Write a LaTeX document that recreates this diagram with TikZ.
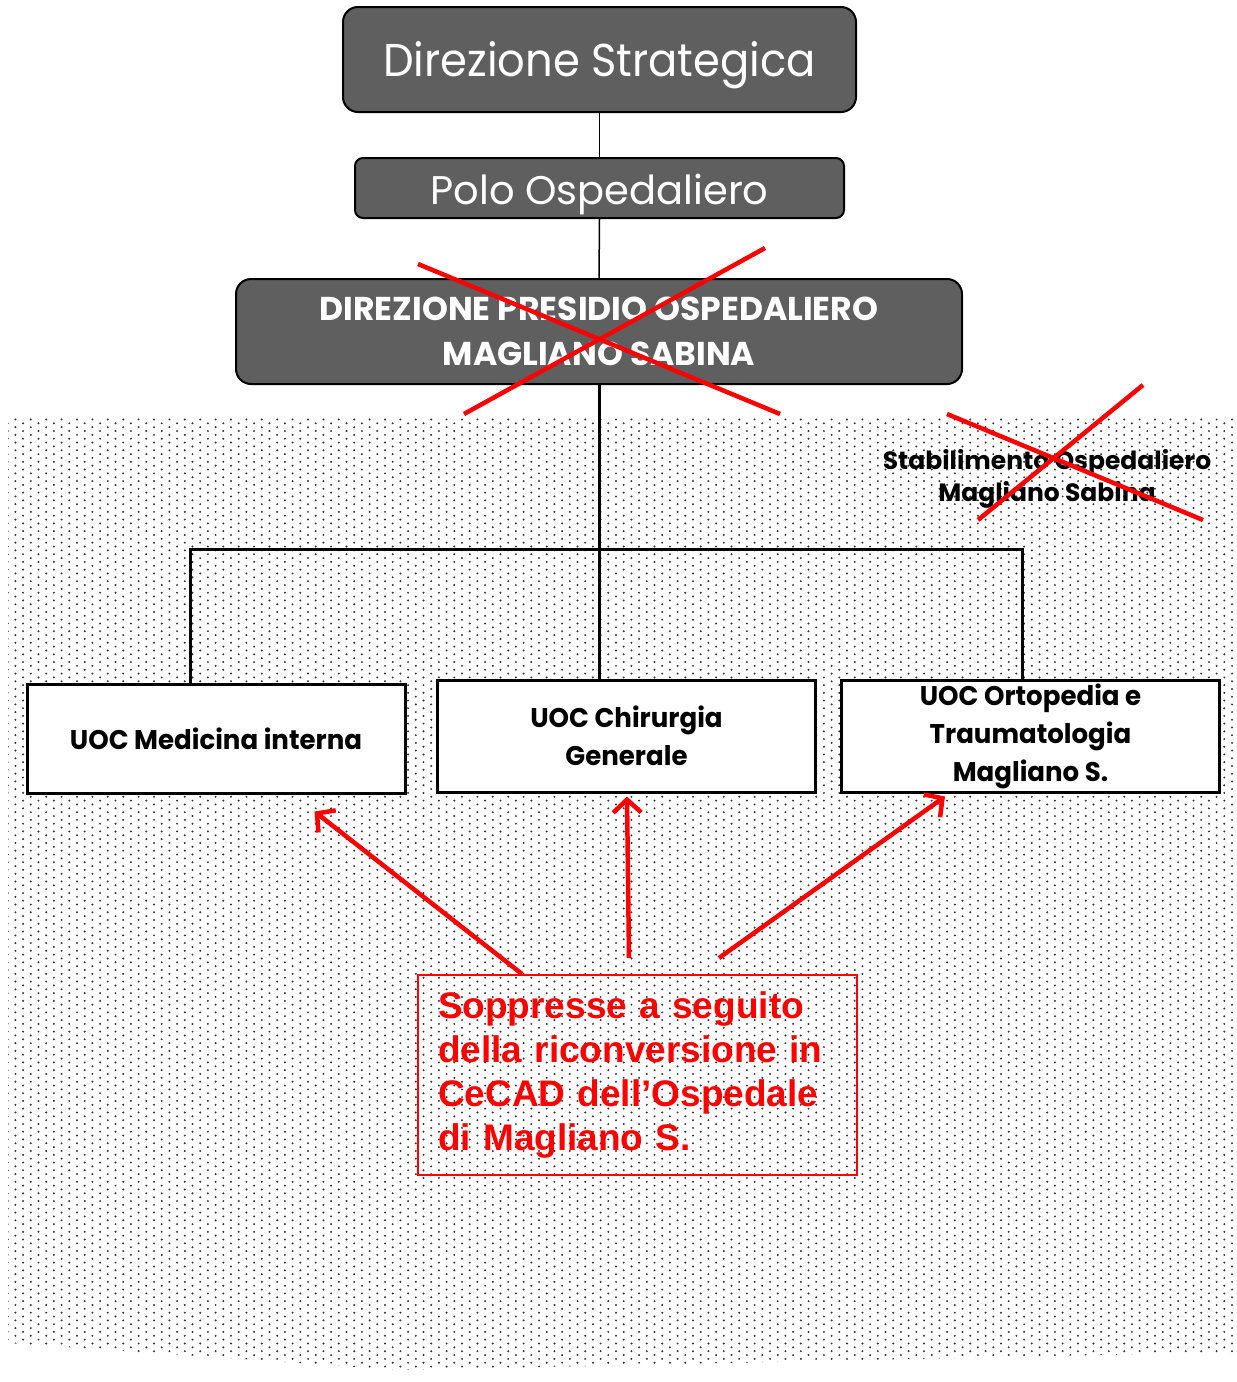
\documentclass[tikz,border=0pt]{standalone}
\usepackage{fontspec}
\usetikzlibrary{arrows.meta,patterns.meta,calc}
\newfontfamily\gothic{Poppins}
\newfontfamily\redfont{Liberation Sans}
\newcommand{\hsq}[2]{\scalebox{#1}[1]{#2}}
\definecolor{boxgray}{HTML}{5F5F5F}
\definecolor{xred}{HTML}{FF0000}
\tikzdeclarepattern{
  name=bgdots,
  type=uncolored,
  bounding box={(-1.2pt,-1.2pt) and (14.2pt,6.5pt)},
  tile size={(15.4pt,7.7pt)},
  code={
    \pgfpathcircle{\pgfpointorigin}{1.1pt}
    \pgfpathcircle{\pgfpoint{7.7pt}{3.85pt}}{1.1pt}
    \pgfusepath{fill}
  }
}
\tikzset{
  topbox/.style={draw=black, line width=2pt, fill=boxgray, text=white, align=center, inner sep=0pt},
  uocbox/.style={draw=black, line width=3pt, fill=white, align=center, inner sep=0pt,
    minimum width=378pt, font=\gothic\bfseries\fontsize{27}{38}\selectfont},
  thinlink/.style={draw=black, line width=1.5pt},
  thicklink/.style={draw=black, line width=3pt},
  crossline/.style={draw=xred, line width=4.5pt},
  redarrow/.style={draw=xred, line width=4.5pt, -{Straight Barb[length=13pt,width=28pt]}}
}
\begin{document}
\begin{tikzpicture}[x=1pt,y=-1pt]
\useasboundingbox (0,0) rectangle (1237,1382);
% dotted background
\fill[pattern=bgdots, pattern color=black!80]
  (8,418) -- (1237,418) -- (1237,1352) -- (400,1370) -- (8,1343) -- cycle;

% top boxes
\node[topbox, minimum width=513pt, minimum height=105pt, rounded corners=15pt] (dstrat) at (599.5,59.5) {};
\node[text=white, inner sep=0pt, font=\gothic\fontsize{46}{56}\selectfont, yshift=-6pt]
  (dstratlabel) at (dstrat.center) {\hsq{0.94}{Direzione Strategica}};
\node[topbox, minimum width=489pt, minimum height=60pt, rounded corners=8pt] (polo) at (599.5,188) {};
\node[text=white, inner sep=0pt, font=\gothic\fontsize{40}{48}\selectfont, yshift=-6pt]
  (pololabel) at (polo.center) {Polo Ospedaliero};
\node[topbox, minimum width=726pt, minimum height=105pt, rounded corners=15pt,
  font=\gothic\bfseries\fontsize{33}{45}\selectfont] (dpo) at (599,331.5)
  {DIREZIONE PRESIDIO OSPEDALIERO\\MAGLIANO SABINA};

% UOC boxes
\node[uocbox, minimum height=109pt] (medicina) at (216,738.5) {\hsq{0.965}{UOC Medicina interna}};
\node[uocbox, minimum height=112pt] (chirurgia) at (626.5,736)
  {\hsq{0.965}{UOC Chirurgia}\\\hsq{0.965}{Generale}};
\node[uocbox, minimum height=112pt] (ortopedia) at (1030.5,736)
  {\raisebox{-3pt}{\hsq{0.965}{UOC Ortopedia e}}\\\raisebox{-3pt}{\hsq{0.965}{Traumatologia}}\\\raisebox{-3pt}{\hsq{0.965}{Magliano S.}}};

% Stabilimento label
\node[align=center, inner sep=0pt, font=\gothic\bfseries\fontsize{25}{32}\selectfont] (stab)
  at (1047,479) {Stabilimento Ospedaliero\\Magliano Sabina};

% note box
\node[draw=xred, line width=2pt, text=xred, minimum width=439pt, minimum height=200pt,
  text width=399pt, align=left, inner xsep=20pt, inner ysep=0pt,
  font=\redfont\bfseries\fontsize{37}{44}\selectfont] (note) at (637.5,1075)
  {Soppresse a seguito\\della riconversione in\\CeCAD dell’Ospedale\\di Magliano S.};

% connectors
\draw[thinlink] (dstrat.south) -- (polo.north);
\draw[thinlink] (polo.south) -- (dpo.north);
\draw[thicklink] (dpo.south) -- (dpo.south |- chirurgia.north);
\coordinate (busL) at ($(medicina.north west)+(165,-133)$);
\coordinate (busR) at ($(ortopedia.north west)+(182,-129)$);
\draw[thicklink] ($(medicina.north west)+(165,0)$) -- (busL) -- (busR) -- ($(ortopedia.north west)+(182,0)$);

% crosses
\draw[crossline] (418,264) -- (780,414);
\draw[crossline] (765,248) -- (464,414);
\draw[crossline] (947,414) -- (1203,520);
\draw[crossline] (1143,385) -- (978,520);

% red arrows
\draw[redarrow] ($(note.north west)+(105,0)$) -- ($(medicina.south west)+(289,17)$);
\draw[redarrow] ($(note.north west)+(212,-16)$) -- ($(chirurgia.south west)+(191,3)$);
\draw[redarrow] ($(note.north west)+(302,-16)$) -- ($(ortopedia.south west)+(105,3)$);
\end{tikzpicture}
\end{document}
